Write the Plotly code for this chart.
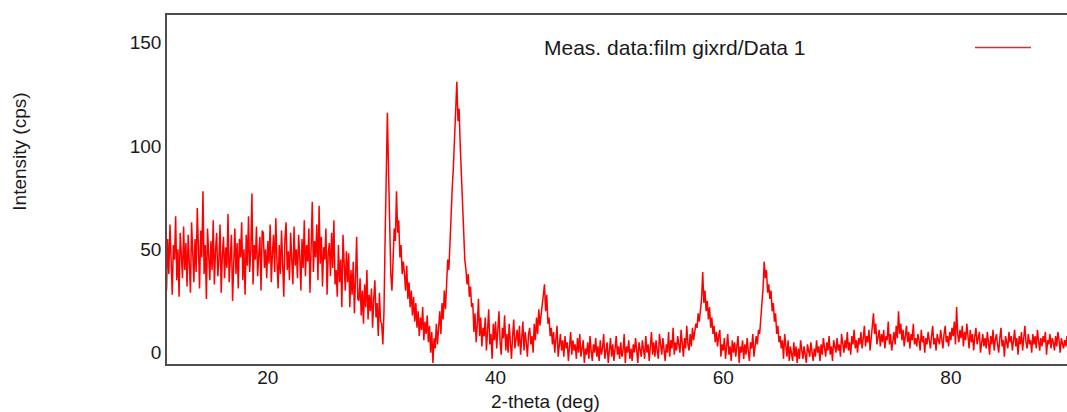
import plotly.graph_objects as go

two_theta_start = 11.0
two_theta_step = 0.1

intensity = [
    48,30,55,38,62,41,28,52,45,66,
    35,50,27,58,44,36,61,40,53,32,
    57,42,29,63,47,34,55,39,70,44,
    31,59,46,78,38,52,26,60,43,35,
    54,40,64,33,49,58,37,45,62,29,
    47,56,36,51,41,67,34,48,57,25,
    44,60,38,53,31,55,46,63,35,50,
    28,57,42,66,39,49,77,33,52,45,
    61,37,47,56,30,59,58,41,50,36,
    54,43,62,34,48,57,39,65,44,31,
    52,38,59,46,27,55,63,40,49,35,
    58,45,33,61,42,50,36,57,47,30,
    55,41,64,37,52,44,60,29,48,73,
    39,54,46,62,35,71,43,56,32,51,
    45,60,28,48,53,37,58,41,64,33,
    40,27,52,34,45,22,57,38,30,49,
    34,48,22,40,28,44,19,36,56,26,
    25,36,18,30,14,33,22,40,16,28,
    20,31,12,26,35,17,24,8,29,15,
    14,4,20,55,98,116,88,62,38,30,
    50,60,54,78,58,64,46,52,38,44,
    38,30,42,26,34,22,30,18,27,15,
    24,12,20,8,17,11,22,6,15,9,
    18,5,13,0,10,-5,7,2,14,4,
    12,20,9,24,16,30,21,38,45,40,
    55,64,80,90,105,122,131,112,118,100,
    86,69,58,45,40,33,38,27,32,22,
    24,10,19,5,14,26,8,17,3,12,
    8,17,1,11,21,4,9,-3,14,6,
    15,2,10,20,5,-1,12,7,18,1,
    9,0,14,4,-3,8,16,2,6,11,
    3,13,-1,7,15,1,10,5,-2,9,
    12,4,8,0,14,6,17,9,21,13,
    18,22,25,33,20,28,14,17,8,12,
    4,10,0,7,13,-2,5,9,1,6,
    -2,8,2,5,-4,3,10,-1,6,1,
    4,-3,7,0,9,-2,3,6,-5,2,
    -1,5,-3,8,1,-4,4,0,7,-2,
    3,-4,6,-1,2,9,-3,1,5,-5,
    0,7,-2,4,-4,2,8,-1,3,-3,
    5,-2,1,9,-5,3,0,6,-3,2,
    -4,4,0,7,-1,-5,5,1,-2,6,
    2,-3,8,0,4,-4,3,10,-1,5,
    -2,6,1,-3,9,3,-1,7,2,-4,
    4,0,10,-2,6,2,12,-1,5,1,
    8,3,0,11,5,-2,7,2,13,4,
    1,9,3,12,6,10,14,12,19,15,
    22,26,39,24,30,20,25,16,22,12,
    17,9,13,5,10,3,8,11,-2,4,
    1,7,-3,4,9,-1,3,-4,6,0,
    5,-2,2,8,-5,3,0,6,-3,4,
    -1,7,1,-4,5,2,9,-2,3,8,
    4,11,9,16,22,31,44,36,40,29,
    33,26,30,20,24,15,19,9,13,5,
    8,2,6,-3,9,2,-2,6,-4,3,
    0,-4,5,-2,3,-5,2,-3,6,0,
    -3,3,-1,-5,4,0,-2,5,1,-4,
    2,-2,6,0,3,-4,4,-1,7,1,
    -2,5,1,8,-1,3,-4,6,2,0,
    7,1,4,-2,9,3,0,6,2,10,
    1,5,-1,8,4,11,2,6,0,7,
    4,10,2,7,13,3,8,5,11,1,
    6,12,19,9,14,4,8,11,3,9,
    5,11,2,8,6,15,4,9,1,7,
    10,4,13,7,20,9,14,6,11,3,
    8,13,5,10,2,9,6,14,4,7,
    3,9,6,1,11,5,8,0,7,4,
    10,5,2,8,13,4,7,1,9,6,
    4,11,7,2,9,13,5,8,3,10,
    6,12,8,15,4,22,9,5,11,7,
    13,3,10,6,14,8,2,11,5,9,
    1,8,12,4,7,10,0,6,9,3,
    7,2,10,5,-1,8,4,11,1,6,
    9,4,0,7,12,3,6,-2,8,5,
    2,10,5,8,1,6,11,3,7,-1,
    8,4,10,1,7,13,5,2,9,4,
    6,0,9,4,8,2,11,5,1,7,
    3,8,5,10,-1,6,4,9,2,7,
    5,1,8,3,10,6,0,7,4,2,
    6,3,8,1,5,
]

two_theta = [round(two_theta_start + i * two_theta_step, 2) for i in range(len(intensity))]

x_ticks = [20, 40, 60, 80]
y_ticks = [0, 50, 100, 150]

series_name = "Meas. data:film gixrd/Data 1"
x_title = "2-theta (deg)"
y_title = "Intensity (cps)"

FONT = "Liberation Sans, Arial, sans-serif"
PLOT_H = 348.5
PLOT_W = 900

fig = go.Figure()
fig.add_trace(go.Scatter(
    x=two_theta, y=intensity, mode="lines",
    line=dict(color="#ff0000", width=1.5),
    name=series_name, showlegend=False,
))

fig.update_layout(
    width=1067, height=412,
    margin=dict(l=167, r=0, t=15, b=48),
    paper_bgcolor="white", plot_bgcolor="white",
    font=dict(family=FONT, color="#1a1a1a"),
    xaxis=dict(
        range=[11.14, 90.2], tickvals=x_ticks, ticks="", showgrid=False, zeroline=False,
        showline=True, linecolor="#4d4d4d", linewidth=1.5, mirror=True,
        ticklabelstandoff=-5,
        tickfont=dict(size=19, family=FONT, color="#1a1a1a"),
    ),
    yaxis=dict(
        range=[-5.5, 163.3], tickvals=y_ticks, ticks="", showgrid=False, zeroline=False,
        showline=True, linecolor="#4d4d4d", linewidth=1.5, mirror=False,
        tickfont=dict(size=19, family=FONT, color="#1a1a1a"),
    ),
    annotations=[
        dict(text=x_title, xref="paper", yref="paper", x=(545 - 167) / PLOT_W, y=-(389 - 364) / PLOT_H,
             xanchor="center", yanchor="top", showarrow=False,
             font=dict(size=19, family=FONT, color="#1a1a1a")),
        dict(text=y_title, xref="paper", yref="paper", x=-(167 - 20) / PLOT_W, y=(364 - 152) / PLOT_H,
             xanchor="center", yanchor="middle", textangle=-90, showarrow=False,
             font=dict(size=19, family=FONT, color="#1a1a1a")),
        dict(text=series_name, xref="paper", yref="paper", x=(674 - 167) / PLOT_W, y=(364 - 48) / PLOT_H,
             xanchor="center", yanchor="middle", showarrow=False,
             font=dict(size=21, family=FONT, color="#1a1a1a")),
    ],
    shapes=[
        dict(type="line", xref="paper", yref="paper",
             x0=(975 - 167) / PLOT_W, x1=(1031 - 167) / PLOT_W,
             y0=(364 - 48) / PLOT_H, y1=(364 - 48) / PLOT_H,
             line=dict(color="#d03030", width=1.5)),
    ],
)

fig.write_html("out.html")
